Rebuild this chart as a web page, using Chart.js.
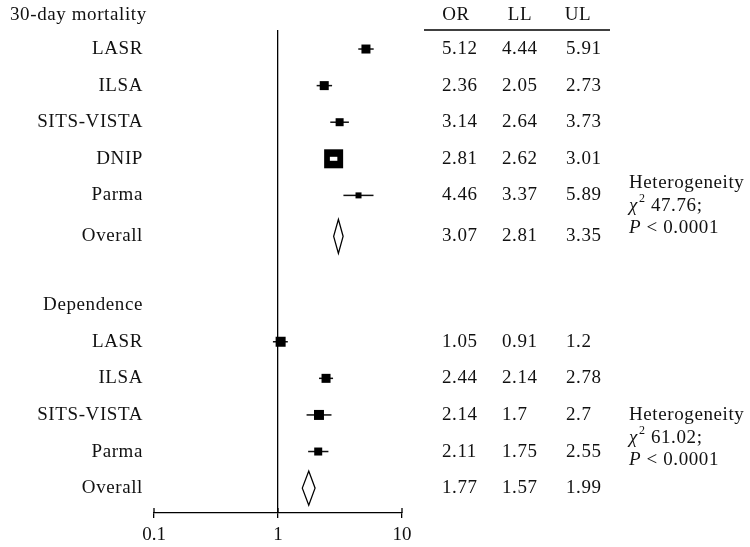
<!DOCTYPE html>
<html>
<head>
<meta charset="utf-8">
<script src="https://cdn.jsdelivr.net/npm/chart.js@4"></script>
<style>
  body { margin: 0; background: #fff; }
</style>
</head>
<body>
<canvas id="myChart" width="750" height="547"></canvas>
<script>
// data
var mortStudies = ['LASR', 'ILSA', 'SITS-VISTA', 'DNIP', 'Parma'];
var mortOR = [5.12, 2.36, 3.14, 2.81, 4.46];
var mortLL = [4.44, 2.05, 2.64, 2.62, 3.37];
var mortUL = [5.91, 2.73, 3.73, 3.01, 5.89];
var mortOverall = [3.07, 2.81, 3.35]; // OR, LL, UL
var mortHet = ['47.76;', '< 0.0001'];

var depStudies = ['LASR', 'ILSA', 'SITS-VISTA', 'Parma'];
var depOR = [1.05, 2.44, 2.14, 2.11];
var depLL = [0.91, 2.14, 1.7, 1.75];
var depUL = [1.2, 2.78, 2.7, 2.55];
var depOverall = [1.77, 1.57, 1.99];
var depHet = ['61.02;', '< 0.0001'];

var groupTitles = ['30-day mortality', 'Dependence'];
var tableHead = ['OR', 'LL', 'UL'];
var xTicks = [0.1, 1, 10];

// row slots (top to bottom)
var mortRows = mortStudies.map(function (s, i) { return i + 1; });
var mortOverallRow = 6.12;
var depTitleRow = 8;
var depRows = depStudies.map(function (s, i) { return i + 9; });
var depOverallRow = 13;

// box side in px (study weight)
var mortBox = [9, 9, 8, 19, 6];
var depBox = [10, 9, 10, 8];

var FONT = '19px "Liberation Serif", "Times New Roman", serif';
var FONT_I = 'italic 19px "Liberation Serif", "Times New Roman", serif';
var FONT_SUP = '12px "Liberation Serif", "Times New Roman", serif';
var SPACING = '0.6px';

var studies = [];
mortStudies.forEach(function (s, i) {
  studies.push({ name: s, or: mortOR[i], ll: mortLL[i], ul: mortUL[i], row: mortRows[i], box: mortBox[i] });
});
depStudies.forEach(function (s, i) {
  studies.push({ name: s, or: depOR[i], ll: depLL[i], ul: depUL[i], row: depRows[i], box: depBox[i] });
});
var overalls = [
  { vals: mortOverall, row: mortOverallRow, het: mortHet, hetRow: 4.65 },
  { vals: depOverall, row: depOverallRow, het: depHet, hetRow: 11.0 }
];

var forestPlugin = {
  id: 'forest',
  beforeDatasetsDraw: function (chart) {
    var ctx = chart.ctx, x = chart.scales.x, y = chart.scales.y;
    ctx.save();
    ctx.strokeStyle = '#111';
    ctx.lineWidth = 1.5;
    studies.forEach(function (s) {
      var py = y.getPixelForValue(s.row);
      ctx.beginPath();
      ctx.moveTo(x.getPixelForValue(s.ll), py);
      ctx.lineTo(x.getPixelForValue(s.ul), py);
      ctx.stroke();
    });
    ctx.restore();
  },
  afterDatasetsDraw: function (chart) {
    var ctx = chart.ctx, x = chart.scales.x, y = chart.scales.y;
    ctx.save();
    // CI hidden inside a big box shows as a white bar
    studies.forEach(function (s) {
      var px = x.getPixelForValue(s.or);
      var l = x.getPixelForValue(s.ll), r = x.getPixelForValue(s.ul);
      if (l > px - s.box / 2 && r < px + s.box / 2) {
        var py = y.getPixelForValue(s.row);
        ctx.fillStyle = '#fff';
        ctx.fillRect(l, py - 2, r - l, 4);
      }
    });
    // diamonds
    ctx.strokeStyle = '#000';
    ctx.lineWidth = 1.3;
    ctx.fillStyle = '#fff';
    overalls.forEach(function (o) {
      var py = y.getPixelForValue(o.row);
      var cx = x.getPixelForValue(o.vals[0]);
      ctx.beginPath();
      ctx.moveTo(x.getPixelForValue(o.vals[1]), py);
      ctx.lineTo(cx, py - 17);
      ctx.lineTo(x.getPixelForValue(o.vals[2]), py);
      ctx.lineTo(cx, py + 17);
      ctx.closePath();
      ctx.fill();
      ctx.stroke();
    });
    // small upward tick marks on the axis
    ctx.strokeStyle = '#000';
    ctx.lineWidth = 1.3;
    xTicks.forEach(function (v) {
      var px = x.getPixelForValue(v);
      ctx.beginPath();
      ctx.moveTo(px, chart.chartArea.bottom - 5);
      ctx.lineTo(px, chart.chartArea.bottom);
      ctx.stroke();
    });
    ctx.restore();
  },
  afterDraw: function (chart) {
    var ctx = chart.ctx, y = chart.scales.y;
    var cols = [442, 502, 566];
    var labelRight = 143;
    ctx.save();
    ctx.fillStyle = '#111';
    ctx.font = FONT;
    ctx.letterSpacing = SPACING;
    ctx.textBaseline = 'middle';

    // headers
    ctx.textAlign = 'left';
    ctx.fillText(groupTitles[0], 10, 15);
    ctx.textAlign = 'right';
    ctx.fillText(groupTitles[1], labelRight, y.getPixelForValue(depTitleRow));
    ctx.textAlign = 'center';
    [456, 520, 578].forEach(function (cx, i) { ctx.fillText(tableHead[i], cx, 15); });
    ctx.strokeStyle = '#000';
    ctx.lineWidth = 1.3;
    ctx.beginPath();
    ctx.moveTo(424, 30);
    ctx.lineTo(610, 30);
    ctx.stroke();

    // study rows
    studies.forEach(function (s) {
      var py = y.getPixelForValue(s.row);
      ctx.textAlign = 'right';
      ctx.fillText(s.name, labelRight, py);
      ctx.textAlign = 'left';
      [s.or, s.ll, s.ul].forEach(function (v, i) { ctx.fillText(String(v), cols[i], py); });
    });

    // overall rows + heterogeneity
    overalls.forEach(function (o) {
      var py = y.getPixelForValue(o.row);
      ctx.font = FONT;
      ctx.textAlign = 'right';
      ctx.fillText('Overall', labelRight, py);
      ctx.textAlign = 'left';
      o.vals.forEach(function (v, i) { ctx.fillText(String(v), cols[i], py); });

      var hx = 629, hy = y.getPixelForValue(o.hetRow);
      ctx.fillText('Heterogeneity', hx, hy);
      var y2 = hy + 23;
      ctx.font = FONT_I;
      ctx.fillText('\u03c7', hx, y2);
      var w = ctx.measureText('\u03c7').width;
      ctx.font = FONT_SUP;
      ctx.fillText('2', hx + w + 1, y2 - 7);
      var w2 = ctx.measureText('2').width;
      ctx.font = FONT;
      ctx.fillText(' ' + o.het[0], hx + w + w2 + 1, y2);
      var y3 = hy + 45;
      ctx.font = FONT_I;
      ctx.fillText('P', hx, y3);
      var wp = ctx.measureText('P').width;
      ctx.font = FONT;
      ctx.fillText(' ' + o.het[1], hx + wp, y3);
    });
    ctx.restore();
  }
};

var ctx = document.getElementById('myChart').getContext('2d');

var myChart = new Chart(ctx, {
  type: 'scatter',
  data: {
    datasets: [{
      data: studies.map(function (s) { return { x: s.or, y: s.row }; }),
      pointStyle: 'rect',
      pointRadius: studies.map(function (s) { return s.box / Math.SQRT2; }),
      backgroundColor: '#000',
      borderWidth: 0
    }]
  },
  options: {
    responsive: false,
    animation: false,
    layout: { padding: { left: 154, right: 348, top: 30, bottom: 0 } },
    plugins: { legend: { display: false }, tooltip: { enabled: false } },
    scales: {
      x: {
        type: 'logarithmic',
        min: 0.1,
        max: 10,
        afterBuildTicks: function (s) { s.ticks = xTicks.map(function (v) { return { value: v }; }); },
        afterFit: function (s) { s.height = 34; },
        ticks: {
          callback: function (v) { return String(v); },
          color: '#111',
          font: { family: '"Liberation Serif", serif', size: 19 },
          padding: 6,
          maxRotation: 0,
          autoSkip: false
        },
        grid: {
          color: function (c) { return c.tick && c.tick.value === 1 ? '#000' : 'rgba(0,0,0,0)'; },
          lineWidth: 1.3,
          tickColor: '#000',
          tickLength: 5
        },
        border: { display: true, color: '#000', width: 1.3 }
      },
      y: {
        display: false,
        reverse: true,
        min: 0.48,
        max: 13.68
      }
    }
  },
  plugins: [forestPlugin]
});
</script>
</body>
</html>
